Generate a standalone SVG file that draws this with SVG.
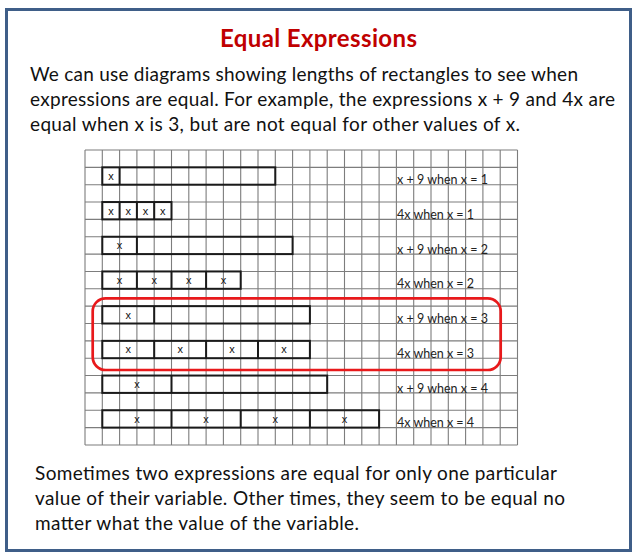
<svg xmlns="http://www.w3.org/2000/svg" width="637" height="559" viewBox="0 0 637 559">
<style>
.body{font-family:Lato,"Liberation Sans",sans-serif;font-size:19px;fill:#111}
.title{font-family:Lato,"Liberation Sans",sans-serif;font-size:24px;font-weight:bold;fill:#c00000}
.bar{fill:none;stroke:#1a1a1a;stroke-width:2}
.xm{font-family:"Liberation Sans",sans-serif;font-size:11px;fill:#111;text-anchor:middle}
.lab{font-family:Lato,"Liberation Sans",sans-serif;font-size:12.5px;fill:#222}
.grid{fill:none;stroke:#7d7d7d;stroke-width:1.1}
</style>
<rect x="0" y="0" width="637" height="559" fill="#fff"/>
<rect id="frame" x="6.5" y="9.5" width="624" height="541" fill="#fff" stroke="#3f5e88" stroke-width="3"/>
<g id="title"><text class="title" x="318.5" y="47" text-anchor="middle" textLength="197">Equal Expressions</text></g>
<g id="intro">
<text class="body" x="30" y="80.7" textLength="548">We can use diagrams showing lengths of rectangles to see when</text>
<text class="body" x="30" y="106" textLength="585">expressions are equal. For example, the expressions x + 9 and 4x are</text>
<text class="body" x="30" y="130.7" textLength="490">equal when x is 3, but are not equal for other values of x.</text>
</g>
<g id="grid">
<path class="grid" d="M85 150V444.95M102.3 150V444.95M119.6 150V444.95M136.9 150V444.95M154.2 150V444.95M171.5 150V444.95M188.8 150V444.95M206.1 150V444.95M223.4 150V444.95M240.7 150V444.95M258 150V444.95M275.3 150V444.95M292.6 150V444.95M309.9 150V444.95M327.2 150V444.95M344.5 150V444.95M361.8 150V444.95M379.1 150V444.95M396.4 150V444.95M413.7 150V444.95M431 150V444.95M448.3 150V444.95M465.6 150V444.95M482.9 150V444.95M500.2 150V444.95M517.5 150V444.95"/>
<path class="grid" d="M85 150H517.5M85 167.35H517.5M85 184.7H517.5M85 202.05H517.5M85 219.4H517.5M85 236.75H517.5M85 254.1H517.5M85 271.45H517.5M85 288.8H517.5M85 306.15H517.5M85 323.5H517.5M85 340.85H517.5M85 358.2H517.5M85 375.55H517.5M85 392.9H517.5M85 410.25H517.5M85 427.6H517.5M85 444.95H517.5"/>
</g>
<g id="bar1">
<rect class="bar" x="102.3" y="167.35" width="173" height="17.35"/>
<path class="bar" d="M119.6 167.35V184.7"/>
<text class="xm" x="110.95" y="179.8">x</text>
</g>
<g id="bar2">
<rect class="bar" x="102.3" y="202.05" width="69.2" height="17.35"/>
<path class="bar" d="M119.6 202.05V219.4M136.9 202.05V219.4M154.2 202.05V219.4"/>
<text class="xm" x="110.95" y="214.5">x</text>
<text class="xm" x="128.25" y="214.5">x</text>
<text class="xm" x="145.55" y="214.5">x</text>
<text class="xm" x="162.85" y="214.5">x</text>
</g>
<g id="bar3">
<rect class="bar" x="102.3" y="236.75" width="190.3" height="17.35"/>
<path class="bar" d="M136.9 236.75V254.1"/>
<text class="xm" x="119.6" y="249.2">x</text>
</g>
<g id="bar4">
<rect class="bar" x="102.3" y="271.45" width="138.4" height="17.35"/>
<path class="bar" d="M136.9 271.45V288.8M171.5 271.45V288.8M206.1 271.45V288.8"/>
<text class="xm" x="119.6" y="283.9">x</text>
<text class="xm" x="154.2" y="283.9">x</text>
<text class="xm" x="188.8" y="283.9">x</text>
<text class="xm" x="223.4" y="283.9">x</text>
</g>
<g id="bar5">
<rect class="bar" x="102.3" y="306.15" width="207.6" height="17.35"/>
<path class="bar" d="M154.2 306.15V323.5"/>
<text class="xm" x="128.25" y="318.6">x</text>
</g>
<g id="bar6">
<rect class="bar" x="102.3" y="340.85" width="207.6" height="17.35"/>
<path class="bar" d="M154.2 340.85V358.2M206.1 340.85V358.2M258 340.85V358.2"/>
<text class="xm" x="128.25" y="353.3">x</text>
<text class="xm" x="180.15" y="353.3">x</text>
<text class="xm" x="232.05" y="353.3">x</text>
<text class="xm" x="283.95" y="353.3">x</text>
</g>
<g id="bar7">
<rect class="bar" x="102.3" y="375.55" width="224.9" height="17.35"/>
<path class="bar" d="M171.5 375.55V392.9"/>
<text class="xm" x="136.9" y="388">x</text>
</g>
<g id="bar8">
<rect class="bar" x="102.3" y="410.25" width="276.8" height="17.35"/>
<path class="bar" d="M171.5 410.25V427.6M240.7 410.25V427.6M309.9 410.25V427.6"/>
<text class="xm" x="136.9" y="422.7">x</text>
<text class="xm" x="206.1" y="422.7">x</text>
<text class="xm" x="275.3" y="422.7">x</text>
<text class="xm" x="344.5" y="422.7">x</text>
</g>
<g id="labels">
<text class="lab" x="397" y="184.3" textLength="91">x + 9 when x = 1</text>
<text class="lab" x="397" y="219" textLength="77">4x when x = 1</text>
<text class="lab" x="397" y="253.7" textLength="91">x + 9 when x = 2</text>
<text class="lab" x="397" y="288.4" textLength="77">4x when x = 2</text>
<text class="lab" x="397" y="323.1" textLength="91">x + 9 when x = 3</text>
<text class="lab" x="397" y="357.8" textLength="77">4x when x = 3</text>
<text class="lab" x="397" y="392.5" textLength="91">x + 9 when x = 4</text>
<text class="lab" x="397" y="427.2" textLength="77">4x when x = 4</text>
</g>
<g id="highlight">
<rect x="92.7" y="298.3" width="408" height="71.7" rx="13" ry="13" fill="none" stroke="#e8191b" stroke-width="2.7"/>
</g>
<g id="footer">
<text class="body" x="35" y="480" textLength="522">Sometimes two expressions are equal for only one particular</text>
<text class="body" x="35" y="505" textLength="530">value of their variable. Other times, they seem to be equal no</text>
<text class="body" x="35" y="530" textLength="324">matter what the value of the variable.</text>
</g>
</svg>
